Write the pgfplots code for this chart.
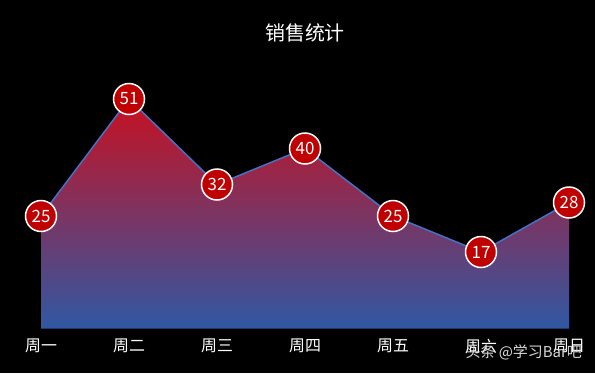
\documentclass[border=0pt]{standalone}
\usepackage{pgfplots}
\pgfplotsset{compat=1.18}
\usepackage{fontspec}
\setmainfont{Noto Sans CJK SC}
\definecolor{topred}{RGB}{200,16,32}
\definecolor{midcol}{RGB}{145,66,125}
\definecolor{botblue}{RGB}{48,88,163}
\definecolor{lineblue}{RGB}{68,114,196}
\definecolor{mkred}{RGB}{192,0,0}
\begin{document}
\begin{tikzpicture}[x=1bp,y=1bp]
\fill[black] (0,0) rectangle (595,373);
\useasboundingbox (0,0) rectangle (595,373);
\node[white,font=\fontsize{20}{24}\selectfont] at (305,340) {销售统计};
\begin{axis}[
  at={(41bp,44.5bp)}, anchor=south west,
  scale only axis, width=528bp, height=270bp,
  xmin=0, xmax=6, ymin=0, ymax=60,
  clip=false,
  axis line style={draw=none},
  tick style={draw=none},
  ytick=\empty,
  xtick={0,1,2,3,4,5,6},
  xticklabels={周一,周二,周三,周四,周五,周六,周日},
  xticklabel style={white,font=\fontsize{16}{19}\selectfont,yshift=-7bp},
  /pgf/number format/assume math mode=true,
]
\addplot[draw=none, top color=topred, middle color=midcol, bottom color=botblue] coordinates {
(0,25) (1,51) (2,32) (3,40) (4,25) (5,17) (6,28)} \closedcycle;
\addplot[lineblue, line width=1.5bp, mark=*, mark size=15.5bp,
  mark options={fill=mkred, draw=white, line width=1.5bp},
  nodes near coords, nodes near coords align=center,
  every node near coord/.append style={anchor=center, white, font=\fontsize{17}{20}\selectfont}]
coordinates {(0,25) (1,51) (2,32) (3,40) (4,25) (5,17) (6,28)};
\end{axis}
\node[anchor=west, white!85!black, font=\fontsize{15}{18}\selectfont] at (462,21) {头条 @学习Bar吧};
\end{tikzpicture}
\end{document}
